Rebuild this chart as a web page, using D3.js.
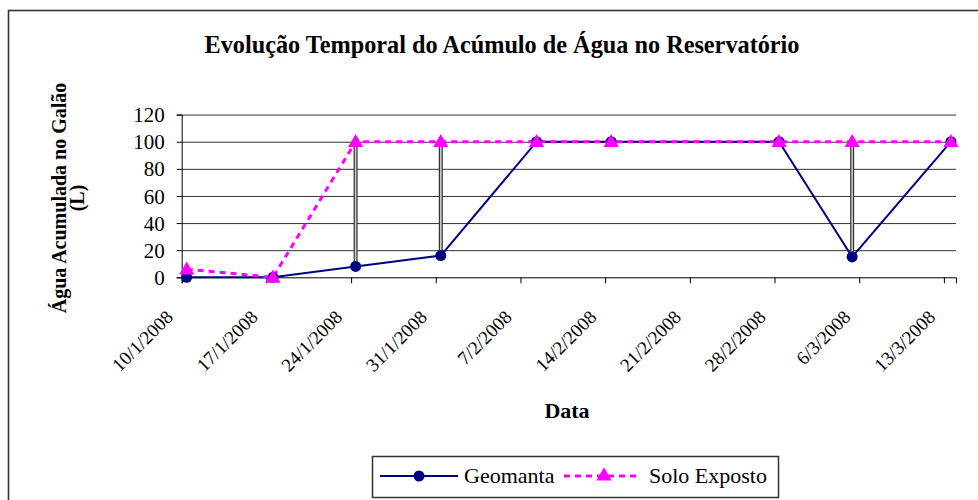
<!DOCTYPE html>
<html>
<head>
<meta charset="utf-8">
<script src="https://cdn.jsdelivr.net/npm/d3@7"></script>
<style>
  body { margin: 0; background: #fff; }
  svg text { font-family: "Liberation Serif", "Times New Roman", serif; }
</style>
</head>
<body>
<div id="chart"></div>
<script>
// values
var dates = ["2008-01-10 10:00", "2008-01-17 13:00", "2008-01-24 09:00", "2008-01-31 10:00",
             "2008-02-08 08:00", "2008-02-14 12:00", "2008-02-28 09:00", "2008-03-05 10:00",
             "2008-03-13 14:00"];
var geomanta    = [0, 0, 8, 16, 100, 100, 100, 15, 100];
var soloExposto = [6, 0, 100, 100, 100, 100, 100, 100, 100];
var tickLabels  = ["10/1/2008", "17/1/2008", "24/1/2008", "31/1/2008", "7/2/2008",
                   "14/2/2008", "21/2/2008", "28/2/2008", "6/3/2008", "13/3/2008"];
var xEnd   = "14/3/2008";
var yTicks = [0, 20, 40, 60, 80, 100, 120];

var seriesNames = ["Geomanta", "Solo Exposto"];

var FONT = "Liberation Serif, Times New Roman, serif";
var W = 978, H = 500;
var margin = { top: 114.6, right: 22, bottom: 222.7, left: 181.7 };
var iw = W - margin.left - margin.right,
    ih = H - margin.top - margin.bottom;

var parseTime = d3.timeParse("%Y-%m-%d %H:%M");
var parseDay = d3.timeParse("%d/%m/%Y");

var points = dates.map(function(d, i) {
    return { time: parseTime(d), geo: geomanta[i], solo: soloExposto[i] };
});
var tickDates = tickLabels.map(parseDay);

var x = d3.scaleTime().domain([tickDates[0], parseDay(xEnd)]).range([0, iw]);
var y = d3.scaleLinear().domain([0, 120]).range([ih, 0]);

var svg = d3.select("#chart").append("svg")
    .attr("width", W).attr("height", H)
    .attr("font-family", FONT);

// chart frame
svg.append("rect")
    .attr("x", 8.5).attr("y", 10.5)
    .attr("width", 1100).attr("height", 700)
    .attr("fill", "#fff").attr("stroke", "#333").attr("stroke-width", 1.6);

svg.append("text")
    .attr("x", 502).attr("y", 53)
    .attr("text-anchor", "middle")
    .attr("font-size", 25).attr("font-weight", "bold")
    .attr("textLength", 595).attr("lengthAdjust", "spacingAndGlyphs")
    .text("Evolução Temporal do Acúmulo de Água no Reservatório");

var g = svg.append("g")
    .attr("transform", "translate(" + margin.left + "," + margin.top + ")");

// horizontal grid
g.append("g").attr("class", "grid")
    .call(d3.axisLeft(y).tickValues(yTicks.slice(1)).tickSize(-iw).tickFormat(""))
    .call(function(s) {
        s.select(".domain").remove();
        s.selectAll("line").attr("stroke", "#333").attr("stroke-width", 1);
    });

// y axis
g.append("g")
    .call(d3.axisLeft(y).tickValues(yTicks).tickSize(5).tickPadding(12))
    .call(function(s) {
        s.attr("font-family", FONT);
        s.select(".domain").attr("stroke", "#000");
        s.selectAll("line").attr("stroke", "#000");
        s.selectAll("text").attr("font-size", 21).attr("fill", "#000").attr("dy", "0.34em");
    });

// x axis
var xAxis = g.append("g")
    .attr("transform", "translate(0," + ih + ")")
    .call(d3.axisBottom(x).tickValues(tickDates).tickSize(6)
        .tickFormat(function(d, i) { return tickLabels[i]; }));
xAxis.attr("font-family", FONT);
xAxis.select(".domain").attr("stroke", "#000");
xAxis.selectAll("line").attr("stroke", "#000");
xAxis.selectAll("text")
    .attr("font-size", 19).attr("fill", "#000")
    .attr("text-anchor", "end")
    .attr("x", 0).attr("y", 0).attr("dy", 0)
    .attr("transform", "translate(-8,41) rotate(-45)");

// high-low lines between the two series
var hl = g.append("g").selectAll("g")
    .data(points.filter(function(p) { return p.geo !== p.solo; }))
    .enter().append("g");
hl.append("line")
    .attr("x1", function(p) { return x(p.time); }).attr("x2", function(p) { return x(p.time); })
    .attr("y1", function(p) { return y(p.geo); }).attr("y2", function(p) { return y(p.solo); })
    .attr("stroke", "#333").attr("stroke-width", 4);
hl.append("line")
    .attr("x1", function(p) { return x(p.time); }).attr("x2", function(p) { return x(p.time); })
    .attr("y1", function(p) { return y(p.geo); }).attr("y2", function(p) { return y(p.solo); })
    .attr("stroke", "#ccc").attr("stroke-width", 1.6);

var geoLine = d3.line()
    .x(function(p) { return x(p.time); })
    .y(function(p) { return y(p.geo); });
var soloLine = d3.line()
    .x(function(p) { return x(p.time); })
    .y(function(p) { return y(p.solo); });

g.append("path").datum(points)
    .attr("d", geoLine)
    .attr("fill", "none").attr("stroke", "#000080").attr("stroke-width", 2);

g.append("path").datum(points)
    .attr("d", soloLine)
    .attr("fill", "none").attr("stroke", "#ff00ff").attr("stroke-width", 3)
    .attr("stroke-dasharray", "6,5");

var tri = d3.symbol().type(d3.symbolTriangle).size(100);

g.selectAll(".geo").data(points).enter().append("circle")
    .attr("class", "geo")
    .attr("cx", function(p) { return x(p.time); })
    .attr("cy", function(p) { return y(p.geo); })
    .attr("r", 5.5).attr("fill", "#000080");

g.selectAll(".solo").data(points).enter().append("path")
    .attr("class", "solo")
    .attr("d", tri)
    .attr("transform", function(p) { return "translate(" + x(p.time) + "," + (y(p.solo) + 1) + ")"; })
    .attr("fill", "#ff00ff");

// axis titles
svg.append("text")
    .attr("transform", "translate(66,198) rotate(-90)")
    .attr("text-anchor", "middle")
    .attr("font-size", 20).attr("font-weight", "bold")
    .text("Água Acumulada no Galão");
svg.append("text")
    .attr("transform", "translate(84,198) rotate(-90)")
    .attr("text-anchor", "middle")
    .attr("font-size", 20).attr("font-weight", "bold")
    .text("(L)");

svg.append("text")
    .attr("x", 567).attr("y", 418)
    .attr("text-anchor", "middle")
    .attr("font-size", 22).attr("font-weight", "bold")
    .text("Data");

// legend
var legend = svg.append("g").attr("transform", "translate(372,456)");
legend.append("rect")
    .attr("x", 0.5).attr("y", 0.5).attr("width", 406).attr("height", 41)
    .attr("fill", "#fff").attr("stroke", "#333").attr("stroke-width", 1.5);

var lg0 = legend.append("g").attr("transform", "translate(8,20)");
lg0.append("line").attr("x1", 0).attr("x2", 78)
    .attr("stroke", "#000080").attr("stroke-width", 2);
lg0.append("circle").attr("cx", 39).attr("r", 5.5).attr("fill", "#000080");
lg0.append("text").attr("x", 84).attr("y", 7).attr("font-size", 22).text(seriesNames[0]);

var lg1 = legend.append("g").attr("transform", "translate(192,20)");
lg1.append("line").attr("x1", 0).attr("x2", 76)
    .attr("stroke", "#ff00ff").attr("stroke-width", 3).attr("stroke-dasharray", "6,5");
lg1.append("path").attr("d", tri).attr("transform", "translate(40,0)").attr("fill", "#ff00ff");
lg1.append("text").attr("x", 85).attr("y", 7).attr("font-size", 22).text(seriesNames[1]);
</script>
</body>
</html>
